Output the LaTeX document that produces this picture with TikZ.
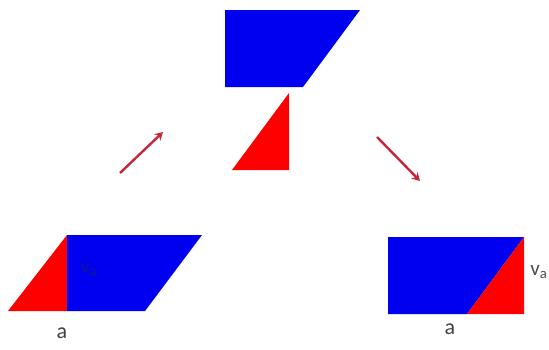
\documentclass[tikz,border=0pt]{standalone}
\usepackage{fontspec}
\setmainfont{Carlito}
\usetikzlibrary{arrows.meta}
\definecolor{pblue}{HTML}{0000F0}
\definecolor{pred}{HTML}{FF0000}
\definecolor{arrowred}{HTML}{C42838}
\definecolor{labblue}{HTML}{101890}
\tikzset{
  bluepiece/.style={fill=pblue, draw=none},
  redpiece/.style={fill=pred, draw=none},
  movearrow/.style={draw=arrowred, line width=2.4pt, -{Stealth[length=8pt,width=9pt]}},
  lab/.style={inner sep=0pt, font=\fontsize{22}{24}\selectfont, text=black!75},
  vlab/.style={inner sep=0pt, font=\fontsize{21}{23}\selectfont}
}
\begin{document}
\begin{tikzpicture}[x=1pt,y=-1pt]
\useasboundingbox (0,0) rectangle (549,349);
% left: parallelogram
\fill[redpiece] (8,311) -- (67,235) -- (67,311) -- cycle;
\fill[bluepiece] (67,235) -- (202,235) -- (145,311) -- (67,311) -- cycle;
\node[vlab, text=labblue] (vl) at (89,270) {v\textsubscript{a}};
\node[lab] (al) at (62,333) {a};
% top: moved pieces
\fill[bluepiece] (225,10) -- (360,10) -- (303,87) -- (225,87) -- cycle;
\fill[redpiece] (289,93) -- (289,170) -- (232,170) -- cycle;
% right: rectangle
\fill[bluepiece] (388,237) -- (524,237) -- (467,314) -- (388,314) -- cycle;
\fill[redpiece] (467,314) -- (524,237) -- (524,314) -- cycle;
\node[vlab, text=black!70] (vr) at (539,272) {v\textsubscript{a}};
\node[lab] (ar) at (450,329) {a};
% arrows
\coordinate (l1) at (120,173);
\coordinate (l2) at (163,132);
\coordinate (r1) at (377,137);
\coordinate (r2) at (420,181);
\draw[movearrow] (l1) -- (l2);
\draw[movearrow] (r1) -- (r2);
\end{tikzpicture}
\end{document}
